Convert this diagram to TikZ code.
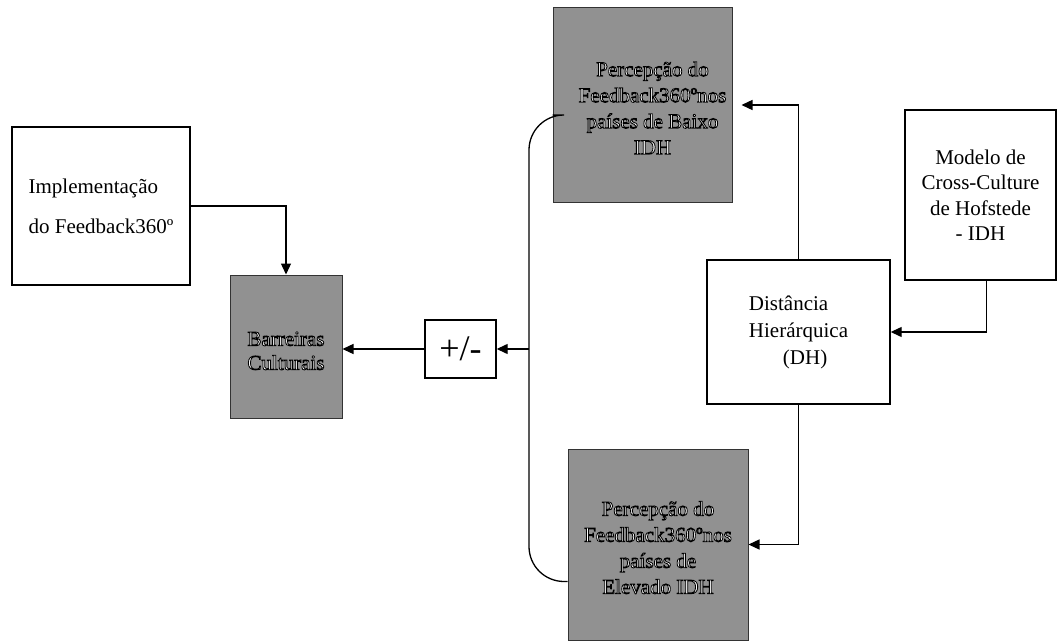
\documentclass[tikz,border=0pt]{standalone}
\usepackage{fontspec}
\setmainfont{Liberation Serif}
\newfontfamily\embfont[FakeBold=4]{Liberation Serif}
\usetikzlibrary{arrows.meta}
\newcommand{\emb}[1]{{\embfont\special{pdf:bcolor [1 1 1] [0 0 0]}#1\special{pdf:ecolor}}}
\newcommand{\topgap}[1]{\rule{0pt}{#1}}
\begin{document}
\begin{tikzpicture}[x=1pt,y=-1pt,
  box/.style={draw=black,line width=1.4pt,fill=white,rectangle,inner sep=0pt,
    font=\fontsize{21}{25}\selectfont},
  gbox/.style={draw=black!80,line width=1pt,fill=black!43,rectangle,inner sep=0pt,
    font=\fontsize{21}{25}\selectfont},
  conn/.style={draw=black,line width=1.3pt},
  arr/.style={conn,-{Triangle[length=11pt,width=10pt]}}
]
\useasboundingbox (0,0) rectangle (1058,642);

\node[box,minimum width=178pt,minimum height=158pt,align=left,
  font=\fontsize{21}{40}\selectfont] (impl) at (101,206)
  {Implementação\\do Feedback360º};
\node[gbox,minimum width=112pt,minimum height=143pt] (barr) at (286,346.5)
  {\begin{tabular}{@{}c@{}}\topgap{30pt}\emb{Barreiras}\\[-1pt]\emb{Culturais}\end{tabular}};
\node[box,minimum width=71pt,minimum height=58pt,font=\fontsize{36}{40}\selectfont] (pm) at (460.5,349) {+/-};
\node[gbox,minimum width=179pt,minimum height=194pt] (baixo) at (642.5,105)
  {\hspace*{20pt}\begin{tabular}{@{}c@{}}\topgap{28pt}\emb{Percepção do}\\[1pt]\emb{Feedback360ºnos}\\[1pt]\emb{países de Baixo}\\[1pt]\emb{IDH}\end{tabular}};
\node[gbox,minimum width=180pt,minimum height=191pt] (elevado) at (658,544.5)
  {\begin{tabular}{@{}c@{}}\topgap{28pt}\emb{Percepção do}\\[1pt]\emb{Feedback360ºnos}\\[1pt]\emb{países de}\\[1pt]\emb{Elevado IDH}\end{tabular}};
\node[box,minimum width=183pt,minimum height=144pt,align=left,
  font=\fontsize{21}{27}\selectfont] (dist) at (798.5,332)
  {Distância\\Hierárquica\\\hspace*{34pt}(DH)};
\node[box,minimum width=151pt,minimum height=170pt,align=center,
  font=\fontsize{21}{25.5}\selectfont] (modelo) at (980.5,195)
  {Modelo de\\Cross-Culture\\de Hofstede\\- IDH};

\coordinate (bus) at (529,349);

\draw[arr] (impl.east) -| (barr.north);
\draw[conn,rounded corners=35pt] ([yshift=-10pt]baixo.west) -| (bus) |- ([yshift=-37pt]elevado.west);
\draw[arr] (bus) -- (pm.east);
\draw[arr] (pm.west) -- (pm.west -| barr.east);
\draw[arr,shorten >=9pt] (dist.north) |- (baixo.east);
\draw[arr] (dist.south) |- (elevado.east);
\draw[arr] ([xshift=6pt]modelo.south) |- (dist.east);
\end{tikzpicture}
\end{document}
